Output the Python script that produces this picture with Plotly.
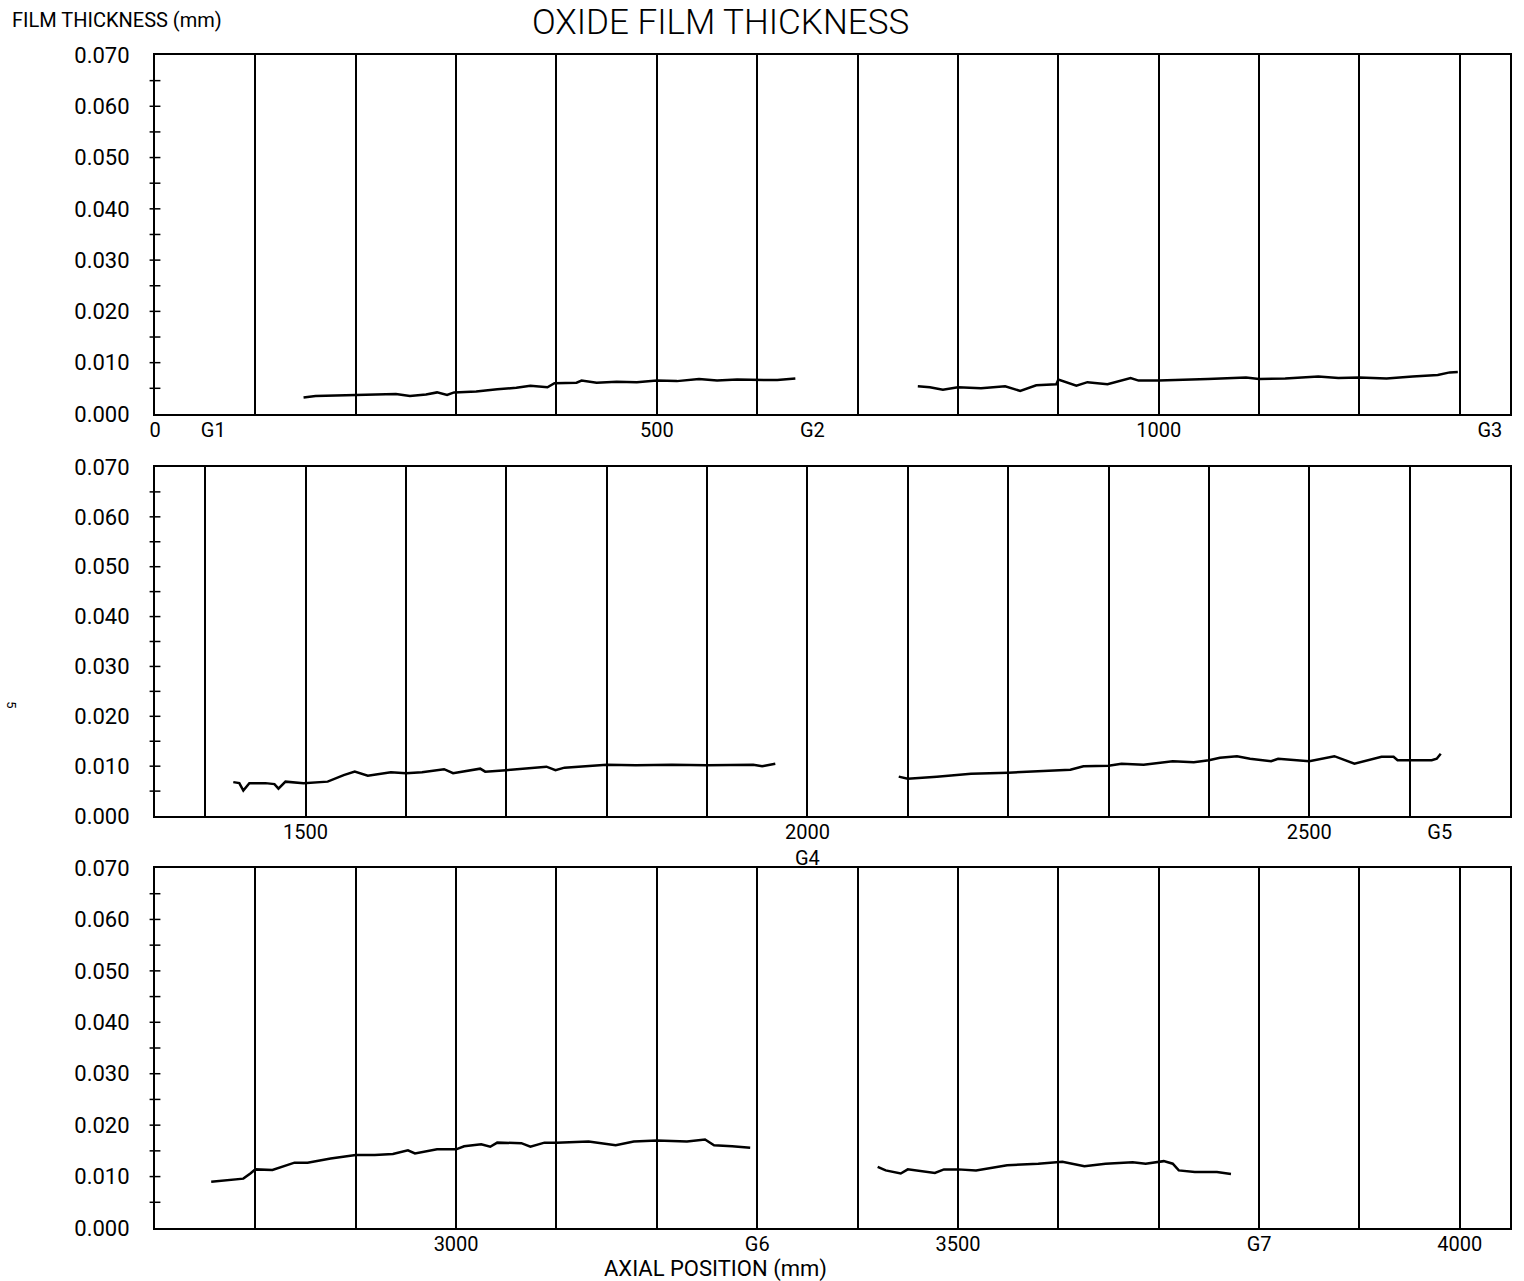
import plotly.graph_objects as go

# ---------------- data (axial position mm, oxide film thickness mm) ----------------
p1a_x = [148, 160, 180, 199, 220, 240, 254, 270, 281, 291, 298, 320, 341, 360, 374, 391, 398, 420, 425, 440,
         460, 480, 500, 520, 542, 560, 580, 600, 620, 638]
p1a_y = [0.0032, 0.0035, 0.0036, 0.0037, 0.0037, 0.0039, 0.0035, 0.0038, 0.0042, 0.0037, 0.0042, 0.0044, 0.0048,
         0.0051, 0.0055, 0.0052, 0.0060, 0.0061, 0.0065, 0.0061, 0.0063, 0.0062, 0.0065, 0.0064, 0.0068, 0.0065,
         0.0067, 0.0067, 0.0066, 0.0069]
p1b_x = [760, 772, 785, 800, 823, 847, 862, 878, 898, 900, 918, 929, 949, 972, 980, 1000, 1049, 1087, 1100, 1126,
         1159, 1179, 1200, 1227, 1253, 1278, 1290, 1298]
p1b_y = [0.0054, 0.0052, 0.0047, 0.0052, 0.0050, 0.0054, 0.0045, 0.0056, 0.0058, 0.0067, 0.0055, 0.0062, 0.0058,
         0.0070, 0.0065, 0.0065, 0.0068, 0.0071, 0.0068, 0.0069, 0.0073, 0.0070, 0.0071, 0.0069, 0.0073, 0.0076,
         0.0081, 0.0082]

p2a_x = [1428, 1434, 1438, 1444, 1460, 1469, 1473, 1480, 1498, 1522, 1538, 1549, 1562, 1585, 1600, 1616, 1638,
         1647, 1674, 1679, 1700, 1740, 1749, 1758, 1800, 1829, 1865, 1900, 1946, 1955, 1968]
p2a_y = [0.0068, 0.0066, 0.0051, 0.0066, 0.0066, 0.0064, 0.0055, 0.0069, 0.0066, 0.0069, 0.0082, 0.0089, 0.0081,
         0.0088, 0.0086, 0.0088, 0.0094, 0.0086, 0.0095, 0.0089, 0.0092, 0.0099, 0.0092, 0.0097, 0.0103, 0.0102,
         0.0103, 0.0102, 0.0103, 0.0100, 0.0105]
p2b_x = [2091, 2100, 2129, 2163, 2200, 2223, 2262, 2275, 2300, 2313, 2335, 2364, 2385, 2400, 2411, 2428, 2441,
         2462, 2469, 2500, 2525, 2545, 2572, 2584, 2588, 2622, 2627, 2631]
p2b_y = [0.0079, 0.0075, 0.0079, 0.0085, 0.0087, 0.0089, 0.0093, 0.0100, 0.0101, 0.0105, 0.0103, 0.0110, 0.0108,
         0.0112, 0.0117, 0.0120, 0.0115, 0.0110, 0.0115, 0.0110, 0.0120, 0.0105, 0.0119, 0.0119, 0.0112, 0.0112,
         0.0115, 0.0125]

p3a_x = [2756, 2768, 2788, 2795, 2800, 2817, 2839, 2852, 2875, 2900, 2919, 2937, 2952, 2959, 2981, 3000, 3008,
         3025, 3034, 3041, 3065, 3074, 3088, 3100, 3132, 3159, 3177, 3200, 3230, 3248, 3257, 3275, 3293]
p3a_y = [0.0090, 0.0092, 0.0096, 0.0106, 0.0114, 0.0113, 0.0127, 0.0127, 0.0135, 0.0142, 0.0142, 0.0144, 0.0151,
         0.0145, 0.0153, 0.0153, 0.0159, 0.0163, 0.0158, 0.0166, 0.0165, 0.0158, 0.0166, 0.0166, 0.0168, 0.0161,
         0.0168, 0.0170, 0.0168, 0.0172, 0.0161, 0.0159, 0.0156]
p3b_x = [3420, 3428, 3443, 3450, 3477, 3486, 3500, 3518, 3549, 3580, 3604, 3626, 3647, 3674, 3687, 3705, 3714,
         3720, 3736, 3758, 3772]
p3b_y = [0.0119, 0.0112, 0.0106, 0.0114, 0.0107, 0.0114, 0.0114, 0.0112, 0.0122, 0.0125, 0.0129, 0.0120, 0.0125,
         0.0128, 0.0125, 0.0130, 0.0125, 0.0112, 0.0109, 0.0109, 0.0105]

# axis ranges and tick labels per panel
x_ranges = [[0, 1350], [1350, 2700], [2700, 4050]]
x_tickvals = [[0, 58, 500, 655, 1000, 1330],
              [1500, 2000, 2500, 2630],
              [3000, 3300, 3500, 3800, 4000]]
x_ticktext = [["0", "G1", "500", "G2", "1000", "G3"],
              ["1500", "2000<br>G4", "2500", "G5"],
              ["3000", "G6", "3500", "G7", "4000"]]
y_tickvals = [0.000, 0.010, 0.020, 0.030, 0.040, 0.050, 0.060, 0.070]
y_ticktext = ["0.000", "0.010", "0.020", "0.030", "0.040", "0.050", "0.060", "0.070"]
y_marks = [0.005, 0.010, 0.015, 0.020, 0.025, 0.030, 0.035, 0.040, 0.045, 0.050, 0.055, 0.060, 0.065]

FONT = "Roboto, DejaVu Sans, sans-serif"

segments = [(1, p1a_x, p1a_y), (1, p1b_x, p1b_y),
            (2, p2a_x, p2a_y), (2, p2b_x, p2b_y),
            (3, p3a_x, p3a_y), (3, p3b_x, p3b_y)]

fig = go.Figure()
for panel, xs, ys in segments:
    sfx = "" if panel == 1 else str(panel)
    fig.add_trace(go.Scatter(x=xs, y=ys, mode="lines", xaxis="x" + sfx, yaxis="y" + sfx,
                             line=dict(color="black", width=2.5), showlegend=False, hoverinfo="x+y"))

domains = [[0.694, 1.0], [0.3512, 0.6488], [0.0, 0.3069]]
layout = {}
for i in range(3):
    sfx = "" if i == 0 else str(i + 1)
    layout["xaxis" + sfx] = dict(
        range=x_ranges[i], anchor="y" + sfx, domain=[0, 1],
        tickmode="array", tickvals=x_tickvals[i], ticktext=x_ticktext[i],
        ticks="", showgrid=False, zeroline=False,
        showline=True, linecolor="black", linewidth=2, mirror=True,
        tickfont=dict(family=FONT, size=20, color="black"),
        ticklabelstandoff=-3,
        minor=dict(tickmode="linear", tick0=0, dtick=100, showgrid=True,
                   gridcolor="black", gridwidth=1.7, ticks=""),
    )
    layout["yaxis" + sfx] = dict(
        range=[0, 0.070], anchor="x" + sfx, domain=domains[i],
        tickmode="array", tickvals=y_tickvals, ticktext=y_ticktext,
        ticks="", showgrid=False, zeroline=False,
        showline=True, linecolor="black", linewidth=2, mirror=True,
        tickfont=dict(family=FONT, size=22, color="black"),
        ticklabelstandoff=19,
    )

shapes = []
for i in range(3):
    sfx = "" if i == 0 else str(i + 1)
    for v in y_marks:
        shapes.append(dict(type="line", xref="x" + sfx + " domain", yref="y" + sfx,
                           x0=-0.004, x1=0.004, y0=v, y1=v,
                           line=dict(color="black", width=1.5)))

# plot area spans page px 155..1510 (x) and 55..1228 (y)
annotations = [
    dict(text="OXIDE FILM THICKNESS", xref="paper", yref="paper", x=0.4170, y=1.0465,
         showarrow=False, font=dict(family=FONT, size=35, color="black", weight=300),
         xanchor="center", yanchor="top"),
    dict(text="FILM THICKNESS (mm)", xref="paper", yref="paper", x=-0.107, y=1.0298,
         showarrow=False, font=dict(family=FONT, size=20, color="black"),
         xanchor="left", yanchor="middle"),
    dict(text="AXIAL POSITION (mm)", xref="paper", yref="paper", x=0.4133, y=-0.0349,
         showarrow=False, font=dict(family=FONT, size=22, color="black"),
         xanchor="center", yanchor="middle"),
    dict(text="5", xref="paper", yref="paper", x=-0.1135, y=0.446, textangle=90,
         showarrow=False, font=dict(family=FONT, size=13, color="black"),
         xanchor="left", yanchor="middle"),
]

fig.update_layout(
    width=1524, height=1281,
    margin=dict(l=155, r=14, t=55, b=53),
    paper_bgcolor="white", plot_bgcolor="white",
    shapes=shapes, annotations=annotations,
    showlegend=False,
    **layout,
)

fig.write_html("out.html", config={"displayModeBar": False},
               post_script="document.body.style.margin='0px';")
